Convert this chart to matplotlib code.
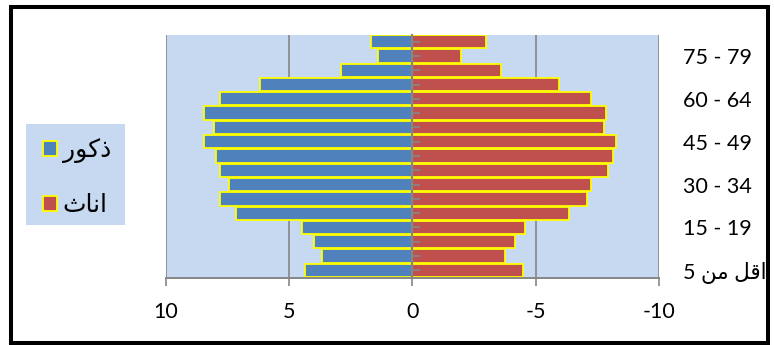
import matplotlib
matplotlib.use("Agg")
import matplotlib.pyplot as plt
from matplotlib.patches import Patch, Rectangle

# Age groups, youngest first (Arabic written in shaped presentation forms, visual order)
age_groups = ["5 \uFEE6\uFEE3 \uFEDE\uFED7\uFE8D", "5 - 9", "10 - 14", "15 - 19", "20 - 24",
              "25 - 29", "30 - 34", "35 - 39", "40 - 44", "45 - 49", "50 - 54",
              "55 - 59", "60 - 64", "65 - 69", "70 - 74", "75 - 79", "80 +"]

# Percentages of population (males positive, females negative)
males = [4.38, 3.66, 3.98, 4.47, 7.15, 7.79, 7.46, 7.79, 7.96, 8.47,
         8.07, 8.47, 7.79, 6.18, 2.89, 1.38, 1.70]
females = [-4.48, -3.76, -4.17, -4.57, -6.36, -7.06, -7.26, -7.95, -8.14, -8.26,
           -7.76, -7.86, -7.26, -5.96, -3.57, -1.97, -2.99]

x_ticks = [10, 5, 0, -5, -10]
x_tick_labels = ["10", "5", "0", "-5", "-10"]

male_label = "\uFEAD\uFEEE\uFEDB\uFEAB"     # ذكور
female_label = "\uFE99\uFE8E\uFEE7\uFE8D"   # اناث

BLUE = "#4F81BD"
RED = "#C0504D"
EDGE = "#FFFF00"
BG = "#C6D9F0"
GRID = "#868686"
FONT = ["Lato", "DejaVu Sans"]
FS = 15.5

fig = plt.figure(figsize=(7.74, 3.45), dpi=100)
ax = fig.add_axes([166 / 774, 1 - 277.5 / 345, (659 - 166) / 774, (277.5 - 34.5) / 345])
ax.set_facecolor(BG)

pos = list(range(len(age_groups)))
ax.barh(pos, males, height=0.93, color=BLUE, edgecolor=EDGE, linewidth=1.3, label=male_label)
ax.barh(pos, females, height=0.93, color=RED, edgecolor=EDGE, linewidth=1.3, label=female_label)

ax.set_xlim(10, -10)
ax.set_ylim(-0.5, len(age_groups) - 0.5)

# x axis
ax.set_xticks(x_ticks)
ax.set_xticklabels(x_tick_labels, family=FONT, fontsize=FS)
ax.tick_params(axis="x", direction="out", length=6, width=1.2, color=GRID, pad=12)
ax.grid(axis="x", color=GRID, linewidth=1.2)
ax.grid(axis="y", visible=False)
ax.set_axisbelow(True)

# y axis at zero, labels on the right every third group
ax.spines["left"].set_position(("data", 0))
ax.spines["left"].set_color(GRID)
ax.spines["left"].set_linewidth(1.6)
ax.spines["bottom"].set_color(GRID)
ax.spines["bottom"].set_linewidth(1.4)
ax.spines["top"].set_visible(False)
ax.spines["right"].set_visible(False)
ax.set_yticks(pos)
ax.set_yticklabels([g if i % 3 == 0 else "" for i, g in enumerate(age_groups)],
                   family=FONT, fontsize=FS)
ax.tick_params(axis="y", direction="in", length=6, width=1.2, color=GRID,
               left=True, right=False, labelleft=False, labelright=True, pad=17)
ax.yaxis.set_zorder(3)

# legend panel
fig.patches.append(Rectangle((26 / 774, 1 - 225 / 345), 99 / 774, 101 / 345,
                             transform=fig.transFigure, facecolor=BG, edgecolor="none"))
handles = [Patch(facecolor=BLUE, edgecolor=EDGE, linewidth=1.3, label=male_label),
           Patch(facecolor=RED, edgecolor=EDGE, linewidth=1.3, label=female_label)]
fig.legend(handles=handles, loc="center", bbox_to_anchor=(77 / 774, 1 - 177 / 345),
           frameon=False, prop={"family": FONT, "size": 18},
           handlelength=0.55, handleheight=0.55, handletextpad=0.25, labelspacing=1.2)

# outer frame
fig.patches.append(Rectangle((10.5 / 774, 1 - 342.5 / 345), 757.5 / 774, 335.5 / 345,
                             transform=fig.transFigure, facecolor="none",
                             edgecolor="black", linewidth=2.9))

fig.savefig("out.png", dpi=100)
